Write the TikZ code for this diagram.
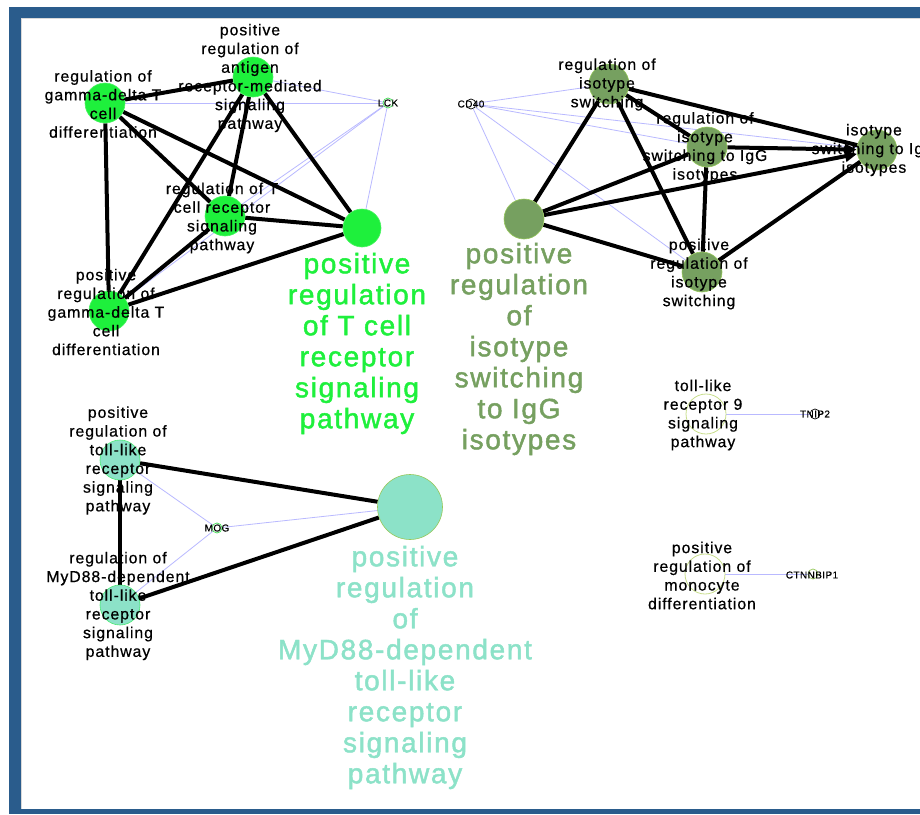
\documentclass[tikz,border=0pt]{standalone}
\usepackage{fontspec}
\setmainfont{Liberation Sans}
\newfontfamily\lblfont[LetterSpace=6, FakeBold=0.6]{Liberation Sans}
\newfontfamily\titlefont[LetterSpace=6, FakeBold=1.6]{Liberation Sans}
\newfontfamily\genefont[LetterSpace=4, FakeBold=0.4]{Liberation Sans}
\usetikzlibrary{arrows.meta}

\definecolor{frameblue}{RGB}{42,92,140}
\definecolor{tcrgreen}{RGB}{30,240,60}
\definecolor{isoolive}{RGB}{118,160,96}
\definecolor{isorim}{RGB}{150,200,90}
\definecolor{tollteal}{RGB}{140,226,200}
\definecolor{assocblue}{RGB}{185,185,255}
\definecolor{emptyrim}{RGB}{200,222,140}
\definecolor{generim}{RGB}{60,220,80}

\pgfdeclarelayer{bg}
\pgfdeclarelayer{edges}
\pgfsetlayers{bg,edges,main}

\tikzset{
  term/.style={circle, inner sep=0pt, minimum size=40pt, line width=0.6pt},
  tcr/.style={term, fill=tcrgreen, draw=tcrgreen!80!white},
  iso/.style={term, fill=isoolive, draw=isorim},
  toll/.style={term, fill=tollteal, draw=tcrgreen!60!tollteal},
  emptyterm/.style={term, fill=none, draw=emptyrim, line width=0.8pt},
  gene/.style={circle, inner sep=0pt, minimum size=10pt, fill=white, line width=0.7pt},
  hit/.style={line width=4pt, black},
  hitarrow/.style={hit, -{Triangle[length=12pt,width=11pt]}},
  assoc/.style={line width=0.8pt, assocblue},
  lbl/.style={align=center, inner sep=0pt, text=black,
    font=\lblfont\fontsize{15.8}{18.7}\selectfont},
  biglbl/.style={align=center, inner sep=0pt,
    font=\titlefont\fontsize{28}{31}\selectfont},
  genelbl/.style={inner sep=0pt, text=black,
    font=\genefont\fontsize{10}{11}\selectfont},
}

\begin{document}
\begin{tikzpicture}[x=1pt, y=-1pt]
\useasboundingbox (0,0) rectangle (920,814);

% window frame
\begin{pgfonlayer}{bg}
  \fill[white] (0,0) rectangle (920,814);
  \fill[frameblue] (9,7) rectangle (920,814);
  \fill[white] (21,18) rectangle (920,809);
  \draw[line width=0.8pt, black!15] (920,18.4) -- (21.4,18.4) -- (21.4,809);
\end{pgfonlayer}

% ---- T cell receptor cluster ----
\node[tcr] (A) at (105,103) {};
\node[tcr] (B) at (253,77) {};
\node[tcr] (C) at (225,216) {};
\node[tcr] (D) at (109,311) {};
\node[tcr, minimum size=38pt] (E) at (362,228) {};
\node[gene, draw=generim] (LCK) at (388,103) {};

% ---- isotype switching cluster ----
\node[iso] (F) at (609,84) {};
\node[iso] (G) at (707,147) {};
\node[iso] (H) at (877,150) {};
\node[iso] (I) at (702,272) {};
\node[iso] (J) at (524,219) {};
\node[gene, draw=black] (CD40) at (471,104) {};

% ---- toll-like receptor cluster ----
\node[toll] (K) at (120,460) {};
\node[toll] (L) at (120,605) {};
\node[term, minimum size=65pt, fill=tollteal, draw=isorim] (M) at (410,507) {};
\node[gene, draw=generim] (MOG) at (217,528) {};

% ---- single terms ----
\node[emptyterm] (N) at (706,414) {};
\node[gene, draw=black] (TNIP2) at (815,414) {};
\node[emptyterm] (O) at (705,574) {};
\node[gene, draw=isorim] (CTNNBIP1) at (813,574) {};

% connectors
\begin{pgfonlayer}{edges}
  % gene associations
  \foreach \t in {A,B,C,D,E} \draw[assoc] (LCK) -- (\t);
  \foreach \t in {F,G,H,I,J} \draw[assoc] (CD40) -- (\t);
  \foreach \t in {K,L,M} \draw[assoc] (MOG) -- (\t);
  \draw[assoc] (N) -- (TNIP2);
  \draw[assoc] (O) -- (CTNNBIP1);
  % term-term links
  \draw[hit] (A) -- (B); \draw[hit] (A) -- (C); \draw[hit] (A) -- (D);
  \draw[hit] (A) -- (E); \draw[hit] (B) -- (C); \draw[hit] (B) -- (D);
  \draw[hit] (B) -- (E); \draw[hit] (C) -- (D); \draw[hit] (C) -- (E);
  \draw[hit] (D) -- (E);
  \draw[hit] (J) -- (F); \draw[hit] (J) -- (G); \draw[hit] (J) -- (I);
  \draw[hit] (F) -- (G); \draw[hit] (F) -- (H); \draw[hit] (F) -- (I);
  \draw[hit] (G) -- (I); \draw[hit] (I) -- (H);
  \draw[hitarrow] (G) -- (H);
  \draw[hitarrow] (J) -- (H);
  \draw[hit] (K) -- (L); \draw[hit] (K) -- (M); \draw[hit] (L) -- (M);
\end{pgfonlayer}

% group titles
\node[biglbl, text=tcrgreen] (Etitle) at (357,343.5)
  {positive\\regulation\\of T cell\\receptor\\signaling\\pathway};
\node[biglbl, text=isoolive] (Jtitle) at (519,349)
  {positive\\regulation\\of\\isotype\\switching\\to IgG\\isotypes};
\node[biglbl, text=tollteal] (Mtitle) at (405,667.5)
  {positive\\regulation\\of\\MyD88-dependent\\toll-like\\receptor\\signaling\\pathway};

% term labels
\node[lbl] (Alab) at (103,104) {regulation of\\gamma-delta T\\cell\\differentiation};
\node[lbl] (Blab) at (250,78) {positive\\regulation of\\antigen\\receptor-mediated\\signaling\\pathway};
\node[lbl] (Clab) at (222,218) {regulation of T\\cell receptor\\signaling\\pathway};
\node[lbl] (Dlab) at (106,312) {positive\\regulation of\\gamma-delta T\\cell\\differentiation};
\node[lbl] (Flab) at (607,84.5) {regulation of\\isotype\\switching};
\node[lbl] (Glab) at (705,147.5) {regulation of\\isotype\\switching to IgG\\isotypes};
\node[lbl] (Hlab) at (874,150) {isotype\\switching to IgG\\isotypes};
\node[lbl] (Ilab) at (699,274) {positive\\regulation of\\isotype\\switching};
\node[lbl] (Klab) at (118,460.5) {positive\\regulation of\\toll-like\\receptor\\signaling\\pathway};
\node[lbl] (Llab) at (118,606) {regulation of\\MyD88-dependent\\toll-like\\receptor\\signaling\\pathway};
\node[lbl] (Nlab) at (703,415) {toll-like\\receptor 9\\signaling\\pathway};
\node[lbl] (Olab) at (702,575.5) {positive\\regulation of\\monocyte\\differentiation};

% gene labels
\node[genelbl] (LCKlab) at (388,103) {LCK};
\node[genelbl] (CD40lab) at (471,104) {CD40};
\node[genelbl] (MOGlab) at (217,528) {MOG};
\node[genelbl] (TNIP2lab) at (815,414) {TNIP2};
\node[genelbl] (CTNNBIP1lab) at (812,575) {CTNNBIP1};
\end{tikzpicture}
\end{document}
